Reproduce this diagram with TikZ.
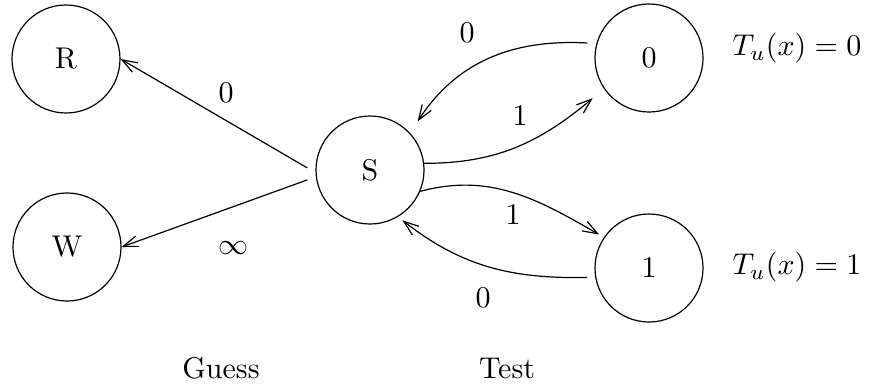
\documentclass[tikz,border=0pt]{standalone}
\usetikzlibrary{arrows.meta}
\begin{document}
\begin{tikzpicture}[x=0.3333pt,y=-0.3333pt,>={Straight Barb[length=5pt,width=3.6pt]},line join=bevel,
  state/.style={draw,circle,minimum size=36pt,inner sep=0pt},
  elabel/.style={inner sep=0pt}]
  \useasboundingbox (0,0) rectangle (869,385);
%%
  % Node: R
  \node[state] (R) at (66,59) {R};
  % Node: W
  \node[state] (W) at (67,247) {W};
  % Node: S
  \node[state] (S) at (370,170) {S};
  % Node: 0
  \node[state] (q0) at (649,58) {0};
  % Node: 1
  \node[state] (q1) at (649,268) {1};
%
  % Edge: S -> R
  \draw [->] ([shift={(-2.7pt,0.7pt)}]S.west) -- (R.east);
  \node[elabel] (lR) at (226,93) {0};
  % Edge: S -> W
  \draw [->] ([shift={(-2.7pt,-3.3pt)}]S.west) -- (W.east);
  \node[elabel] (lW) at (233,248) {$\infty$};
  % Edge: S -> 0
  \draw [->] (S.7) to[out=0,in=220] ([shift={(-3pt,-4.3pt)}]q0.210);
  \node[elabel] (lS0) at (520,116) {1};
  % Edge: 0 -> S
  \draw [->] ([shift={(-3pt,0.3pt)}]q0.165) to[out=177,in=57] ([shift={(3pt,3.3pt)}]S.45);
  \node[elabel] (l0S) at (467,33) {0};
  % Edge: S -> 1
  \draw [->] (S.-23) to[out=15,in=150] ([shift={(-1.7pt,0.7pt)}]q1.145);
  \node[elabel] (lS1) at (513,215) {1};
  % Edge: 1 -> S
  \draw [->] ([shift={(-2.7pt,0pt)}]q1.190) to[out=181,in=-38] ([shift={(1.7pt,-1pt)}]S.-60);
  \node[elabel] (l1S) at (483,298) {0};
%
  % Texts
  \node (T0) at (797,48) {$T_u(x) = 0$};
  \node (T1) at (797,267) {$T_u(x) = 1$};
  \node (guess) at (221,368) {Guess};
  \node (test) at (507,368) {Test};
%
\end{tikzpicture}
\end{document}
